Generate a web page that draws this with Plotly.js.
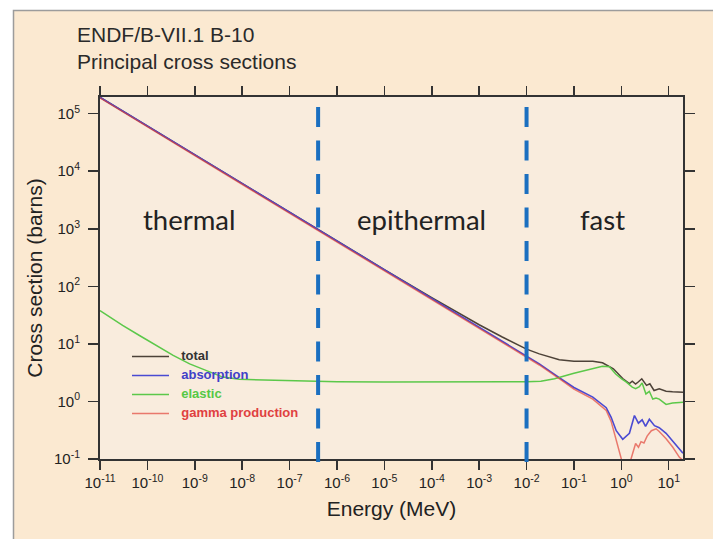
<!DOCTYPE html>
<html>
<head>
<meta charset="utf-8">
<script src="https://cdn.plot.ly/plotly-3.0.1.min.js"></script>
<style>
html,body{margin:0;padding:0;background:#ffffff;}
#chart{width:713px;height:539px;}
</style>
</head>
<body>
<div id="chart"></div>
<script>
// ---- data (energy in MeV, cross section in barns) ----
const energyTotal = [1e-11,1e-10,1e-9,1e-8,1e-7,1e-6,1e-5,1e-4,1e-3,3e-3,1e-2,0.0186,0.049,0.1,0.25,0.4,0.68,1.07,1.48,1.7,2.0,2.3,2.7,3.4,4.0,4.9,6.3,8.8,12,20];
const total       = [1.93e5,6.1e4,1.93e4,6.12e3,1.94e3,614,196,63.5,21.5,13.3,8.1,6.7,5.3,5.0,5.0,4.7,3.7,2.5,2.05,2.25,2.0,2.2,2.48,1.9,2.03,1.55,1.66,1.51,1.47,1.45];

const energyAbsorption = [1e-11,1e-10,1e-9,1e-8,1e-7,1e-6,1e-5,1e-4,1e-3,1e-2,0.0186,0.049,0.1,0.25,0.48,0.61,0.78,1.07,1.48,1.89,2.29,2.75,3.24,3.9,5.0,6.3,8.8,12.2,16.8,20];
const absorption       = [1.93e5,6.1e4,1.93e4,6.1e3,1.93e3,610,193,61,19.3,6.1,4.5,2.6,1.75,1.19,0.78,0.53,0.31,0.22,0.28,0.57,0.42,0.48,0.37,0.49,0.38,0.35,0.28,0.204,0.15,0.126];

const energyElastic = [1e-11,3e-11,6.8e-11,1.5e-10,3.5e-10,7.8e-10,1.75e-9,3.9e-9,8.7e-9,4.4e-8,1e-7,1e-6,1e-5,1e-4,1e-3,5e-3,1e-2,0.02,0.039,0.1,0.25,0.4,0.56,0.76,1.0,1.28,1.7,2.0,2.4,2.75,3.3,3.9,4.6,5.4,6.3,8.8,12,20];
const elastic       = [38,21,14,9.4,6.3,4.5,3.46,2.65,2.42,2.32,2.27,2.2,2.18,2.17,2.17,2.18,2.2,2.25,2.48,3.1,3.7,4.07,4.0,3.0,2.5,2.17,1.77,1.66,1.8,2.1,1.35,1.5,1.1,1.15,1.1,0.89,0.94,0.97];

const energyGamma = [1e-11,1e-10,1e-9,1e-8,1e-7,1e-6,1e-5,1e-4,1e-3,1e-2,0.0186,0.049,0.1,0.25,0.48,0.61,0.78,0.92,1.0,1.2,1.45,1.6,2.0,2.3,2.6,3.0,3.5,4.3,5.4,6.3,8.8,12.2,16.8,20];
const gammaProduction = [1.88e5,5.93e4,1.88e4,5.93e3,1.88e3,593,188,59.3,18.8,5.9,4.3,2.5,1.64,1.1,0.7,0.45,0.22,0.13,0.1,0.05,0.06,0.1,0.186,0.16,0.2,0.19,0.25,0.31,0.335,0.3,0.224,0.16,0.107,0.095];

const seriesNames = ['total','absorption','elastic','gamma production'];
const regionLabels = ['thermal','epithermal','fast'];
const regionBoundaries = [4e-7, 1e-2];
const titleLines = ['ENDF/B-VII.1 B-10','Principal cross sections'];

const xTickVals = [1e-11,1e-10,1e-9,1e-8,1e-7,1e-6,1e-5,1e-4,1e-3,1e-2,1e-1,1e0,1e1];
const xTickText = ['10<sup>-11</sup>','10<sup>-10</sup>','10<sup>-9</sup>','10<sup>-8</sup>','10<sup>-7</sup>','10<sup>-6</sup>','10<sup>-5</sup>','10<sup>-4</sup>','10<sup>-3</sup>','10<sup>-2</sup>','10<sup>-1</sup>','10<sup>0</sup>','10<sup>1</sup>'];
const yTickVals = [1e-1,1e0,1e1,1e2,1e3,1e4,1e5];
const yTickText = ['10<sup>-1</sup>','10<sup>0</sup>','10<sup>1</sup>','10<sup>2</sup>','10<sup>3</sup>','10<sup>4</sup>','10<sup>5</sup>'];

// ---- styling ----
const lineColors = ['#4d4238','#4a4ad2','#5cc84a','#e03a30'];
const textColors = ['#333333','#4040c8','#55c845','#e04040'];

function legendName(i){
  return '<span style="color:' + textColors[i] + ';font-size:13px;font-weight:bold">\u00a0\u00a0' + seriesNames[i] + '</span>';
}

const traces = [
  {x: energyTotal, y: total, name: legendName(0), mode:'lines', line:{color:lineColors[0], width:1.5}},
  {x: energyAbsorption, y: absorption, name: legendName(1), mode:'lines', line:{color:lineColors[1], width:1.6}},
  {x: energyElastic, y: elastic, name: legendName(2), mode:'lines', line:{color:lineColors[2], width:1.5}},
  {x: energyGamma, y: gammaProduction, name: legendName(3), mode:'lines', opacity:0.65, line:{color:lineColors[3], width:1.5}}
];

const W = 713, H = 539;
const mL = 100, mR = 30, mT = 97, mB = 80;
const pw = W - mL - mR, ph = H - mT - mB;
function px2paperX(px){ return (px - mL) / pw; }
function px2paperY(py){ return (H - mB - py) / ph; }

const shapes = [
  {type:'rect', xref:'paper', yref:'paper', x0:px2paperX(13.5), x1:px2paperX(725), y0:px2paperY(550), y1:px2paperY(10.5),
   fillcolor:'#fbe9d1', line:{color:'#9c9c9c', width:1.5}, layer:'below'},
  {type:'rect', xref:'paper', yref:'paper', x0:0, x1:1, y0:0, y1:1,
   fillcolor:'#f9ecdd', line:{width:0}, layer:'below'}
];
regionBoundaries.forEach(function(b){
  shapes.push({type:'line', xref:'x', yref:'paper', x0:b, x1:b, y0:px2paperY(462), y1:px2paperY(104.5),
    line:{color:'#1b6fc0', width:4, dash:'20px,13.5px'}, layer:'above'});
});

const regionX = [-9.12, -4.22, -0.40]; // log10 positions (MeV) of the region captions
const annotations = regionLabels.map(function(t, i){
  return {text:t, xref:'x', yref:'y', x:regionX[i], y:3.16, showarrow:false,
    xanchor:'center', yanchor:'middle', font:{family:'Lato, "Open Sans", sans-serif', size:27.5, color:'#222222'}};
});

const layout = {
  width: W, height: H,
  margin:{l:mL, r:mR, t:mT, b:mB, pad:0},
  paper_bgcolor:'#ffffff',
  plot_bgcolor:'rgba(0,0,0,0)',
  font:{family:'"Liberation Sans", Arial, Helvetica, sans-serif', color:'#222222'},
  title:{text:titleLines.join('<br>'), xref:'container', yref:'container', x:77/W, xanchor:'left', y:1-41.5/H, yanchor:'top',
    font:{size:21, color:'#2a2a2a'}},
  showlegend:true,
  legend:{x:px2paperX(127), y:px2paperY(342), xanchor:'left', yanchor:'top', bgcolor:'rgba(0,0,0,0)',
    font:{size:10}, tracegroupgap:0, itemwidth:37},
  xaxis:{type:'log', range:[-11, Math.log10(20)], tickmode:'array', tickvals:xTickVals, ticktext:xTickText,
    ticks:'outside', ticklen:9, tickwidth:1.5, tickcolor:'#333', showline:true, linecolor:'#333', linewidth:2,
    mirror:'ticks', showgrid:false, zeroline:false, tickfont:{size:15, color:'#222'},
    title:{text:'Energy (MeV)', font:{size:21, color:'#222'}, standoff:11}},
  yaxis:{type:'log', range:[-1, 5.29], tickmode:'array', tickvals:yTickVals, ticktext:yTickText,
    ticks:'outside', ticklen:10, tickwidth:1.5, tickcolor:'#333', showline:true, linecolor:'#333', linewidth:2,
    mirror:'ticks', showgrid:false, zeroline:false, tickfont:{size:15, color:'#222'}, ticklabelstandoff:5,
    title:{text:'Cross section (barns)', font:{size:21, color:'#222'}, standoff:6}},
  shapes: shapes,
  annotations: annotations,
  hovermode:false
};

Plotly.newPlot('chart', traces, layout, {staticPlot:true, displayModeBar:false});
</script>
</body>
</html>
